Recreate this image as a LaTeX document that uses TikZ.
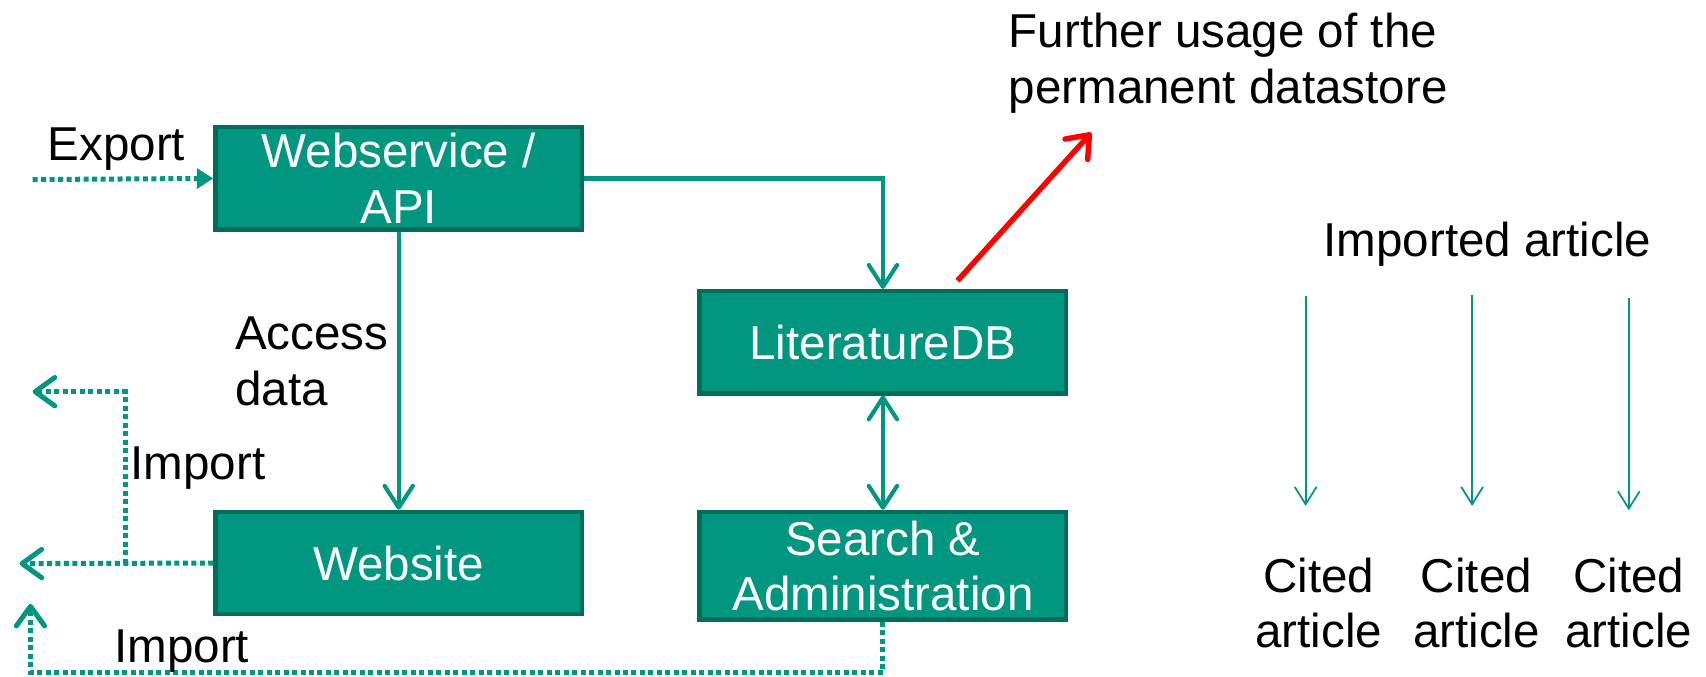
\documentclass[tikz,border=0pt]{standalone}
\usepackage{fontspec}
\setmainfont{Liberation Sans}
\usetikzlibrary{arrows.meta}
\definecolor{tealfill}{RGB}{0,150,128}
\definecolor{tealedge}{RGB}{0,108,90}
\definecolor{tealline}{RGB}{0,150,128}

\begin{document}
\begin{tikzpicture}[x=1pt,y=-1pt,
  every node/.style={font=\fontsize{43.7}{51}\selectfont, inner sep=0pt, align=center},
  box/.style={draw=tealedge, fill=tealfill, line width=4pt, text=white,
    minimum width=337pt, minimum height=94pt},
  flow/.style={draw=tealline, line width=3.8pt,
    -{Straight Barb[length=20pt,width=26pt,round]}},
  dualflow/.style={draw=tealline, line width=3.8pt,
    {Straight Barb[length=20pt,width=26pt,round]}-{Straight Barb[length=20pt,width=26pt,round]}},
  dotline/.style={draw=tealline, line width=4.6pt, dash pattern=on 4.6pt off 3.2pt},
  dotarrow/.style={dotline, -{Straight Barb[length=18pt,width=26pt,round]}},
  thinflow/.style={draw=tealline, line width=1.6pt,
    -{Straight Barb[length=16pt,width=20pt]}},
  usage/.style={draw=red, line width=5pt,
    -{Straight Barb[length=18pt,width=28pt,round]}}
]
\useasboundingbox (0,0) rectangle (1568,622);

% system components
\node[box] (ws)  at (366.5,164) {Webservice /\\API};
\node[box] (lit) at (811.5,314.5) {LiteratureDB};
\node[box] (web) at (366.5,517.5) {Website};
\node[box, minimum height=99pt] (sa) at (811.5,520) {Search \&\\Administration};

% free ends of the connectors
\coordinate (exs) at (30,165);
\coordinate (imp1) at (18,518);
\coordinate (br) at (115,518);
\coordinate (imp2) at (30,360);
\coordinate (bot) at (0,618);
\coordinate (imp3) at (28,555);
\coordinate (rs) at (880,258);
\coordinate (re) at (1003,122);

% main data flow
\draw[flow] (ws.east) -| (lit.north);
\draw[flow] (ws.south) -- (web.north);
\draw[dualflow] (lit.south) -- (sa.north);
\draw[usage] (rs) -- (re);

% export and import paths
\draw[dotline, -{Triangle[length=15pt,width=18pt]}] (exs) -- (ws.west);
\draw[dotarrow] (web.west) -- (imp1);
\draw[dotarrow] (br) |- (imp2);
\draw[dotarrow] (sa.south) -- (sa.south |- bot) -| (imp3);

% labels
\node (lexport) at (107,137) {Export};
\node[anchor=west, align=left] (laccess) at (216,332) {Access\\data};
\node (limp1) at (182,430) {Import};
\node (limp2) at (167,598) {Import};
\node[anchor=west, align=left] (lusage) at (927,58) {Further usage of the\\permanent datastore};

% citation scheme
\node (imported) at (1367,224) {Imported article};
\node (c1) at (1212,554) {Cited\\article};
\node (c2) at (1357,554) {Cited\\article};
\node (c3) at (1497,554) {Cited\\article};
\coordinate (t1) at (1200,272);
\coordinate (t2) at (1353,271);
\coordinate (t3) at (1497,274);
\draw[thinflow] (t1) -- (t1 |- 0,465);
\draw[thinflow] (t2) -- (t2 |- 0,465);
\draw[thinflow] (t3) -- (t3 |- 0,469);
\end{tikzpicture}
\end{document}
